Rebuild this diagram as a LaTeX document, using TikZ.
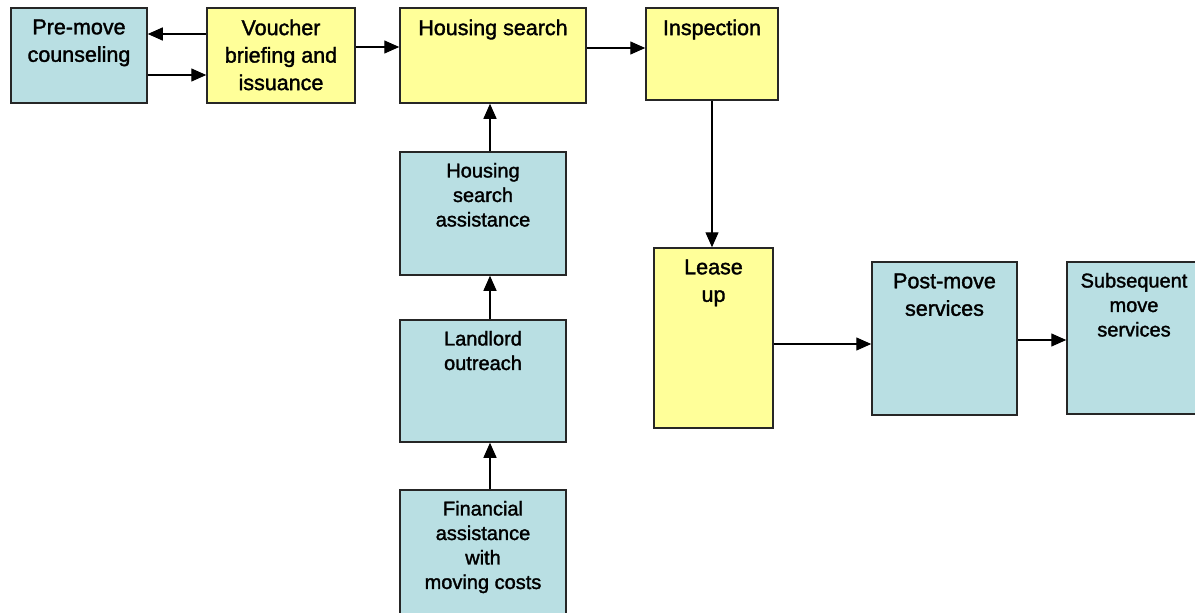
\documentclass[tikz,border=0pt]{standalone}
\usepackage{fontspec}
\setmainfont{Liberation Sans}[FakeBold=1.6]
\usetikzlibrary{arrows.meta}
\definecolor{boxblue}{HTML}{B9DFE3}
\definecolor{boxyellow}{HTML}{FFFF99}
\tikzstyle{blu}=[fill=boxblue, draw=black!85, shape=rectangle, inner sep=0pt, line width=1.5pt]
\tikzstyle{yel}=[fill=boxyellow, draw=black!85, shape=rectangle, inner sep=0pt, line width=1.5pt]
\tikzstyle{arw}=[-{Triangle[length=15pt,width=13pt]}, line width=1.3pt]
\newcommand{\bigtxt}[3]{\parbox[c][#2][t]{#1}{\centering\fontsize{21.5}{27.5}\selectfont\vspace*{11.5pt}#3\par}}
\newcommand{\smltxt}[3]{\parbox[c][#2][t]{#1}{\centering\fontsize{20}{24.5}\selectfont\vspace*{11pt}#3\par}}
\begin{document}
\begin{tikzpicture}[x=1pt, y=-1pt]
		\useasboundingbox (0,0) rectangle (1195,613);
		\clip (0,0) rectangle (1195,613);

		\node [style=blu] (1) at (79,55.5) {\bigtxt{136pt}{95pt}{Pre-move\\counseling}};
		\node [style=yel] (2) at (281,55.5) {\bigtxt{148pt}{95pt}{Voucher\\briefing and\\issuance}};
		\node [style=yel] (3) at (493,55.5) {\bigtxt{186pt}{95pt}{Housing search}};
		\node [style=yel] (4) at (712,54) {\bigtxt{132pt}{92pt}{Inspection}};

		\node [style=blu] (5) at (483,213.5) {\smltxt{166pt}{123pt}{Housing\\search\\assistance}};
		\node [style=blu] (6) at (483,381) {\smltxt{166pt}{122pt}{Landlord\\outreach}};
		\node [style=blu] (7) at (483,555) {\smltxt{166pt}{130pt}{Financial\\assistance\\with\\moving costs}};

		\node [style=yel] (8) at (713.5,338) {\bigtxt{119pt}{180pt}{Lease\\up}};
		\node [style=blu] (9) at (944.5,338.5) {\bigtxt{145pt}{153pt}{Post-move\\services}};
		\node [style=blu] (10) at (1134,338) {\smltxt{134pt}{152pt}{Subsequent\\move\\services}};

		\draw [style=arw] (2.west |- 0,34) to (1.east |- 0,34);
		\draw [style=arw] (1.east |- 0,75) to (2.west |- 0,75);
		\draw [style=arw] (2.east |- 0,47) to (3.west |- 0,47);
		\draw [style=arw] (3.east |- 0,48) to (4.west |- 0,48);
		\draw [style=arw] (4.south) to (4.south |- 8.north);

		\draw [style=arw] (5.north -| 490,0) to (3.south -| 490,0);
		\draw [style=arw] (6.north -| 490,0) to (5.south -| 490,0);
		\draw [style=arw] (7.north -| 490,0) to (6.south -| 490,0);

		\draw [style=arw] (8.east |- 0,344) to (9.west |- 0,344);
		\draw [style=arw] (9.east |- 0,340) to (10.west |- 0,340);
	\end{tikzpicture}
\end{document}
